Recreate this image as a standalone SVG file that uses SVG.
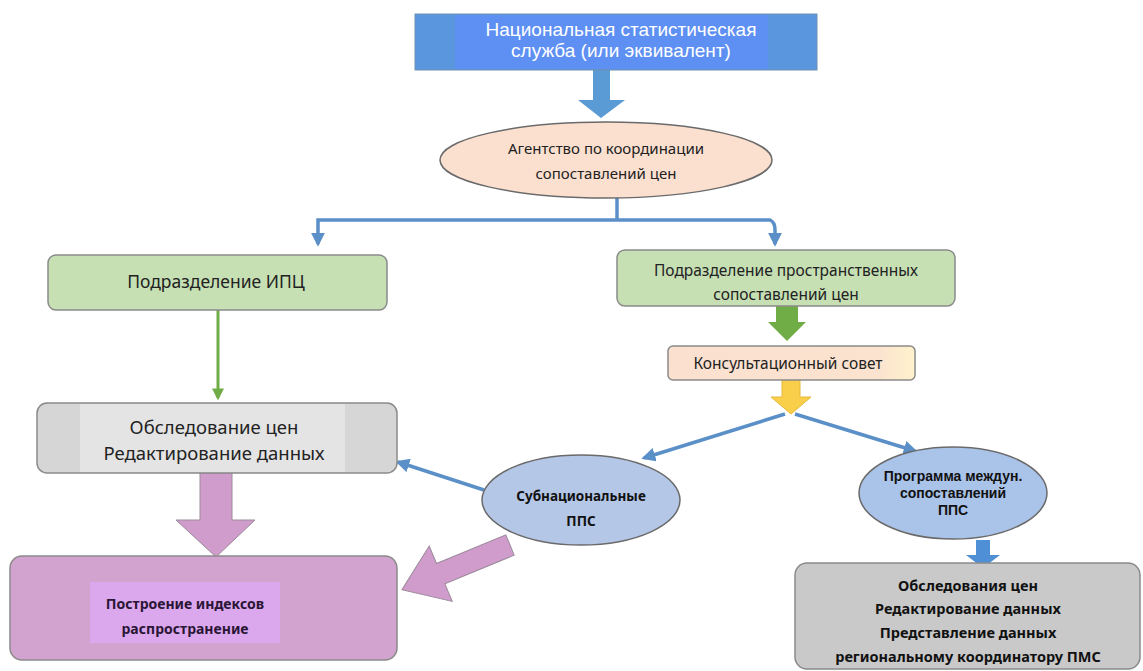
<svg xmlns="http://www.w3.org/2000/svg" width="1143" height="671" viewBox="0 0 1143 671">
<defs>
<style>
text{font-family:"Noto Sans","Liberation Sans",sans-serif;text-anchor:middle;fill:#222}
.b{font-weight:bold;fill:#111}
.w{fill:#fff;font-family:"Liberation Sans",Arial,sans-serif}
.lb{font-family:"Liberation Sans",Arial,sans-serif}
.ln{fill:none;stroke:#5b8fc7;stroke-width:3.5}
.st{stroke:#8a8a8a;stroke-width:1.5}
</style>
<marker id="ah" viewBox="0 0 10 10" refX="8" refY="5" markerWidth="4" markerHeight="4" orient="auto"><path d="M0,0 L10,5 L0,10 z" fill="#5b8fc7"/></marker>
<marker id="ag" viewBox="0 0 10 10" refX="8" refY="5" markerWidth="4" markerHeight="4" orient="auto"><path d="M0,0 L10,5 L0,10 z" fill="#70ad47"/></marker>
<linearGradient id="peach" x1="0" x2="1" y1="0" y2="0"><stop offset="0" stop-color="#fbe0d0"/><stop offset="0.85" stop-color="#fbe3cf"/><stop offset="1" stop-color="#fff2cc"/></linearGradient>
</defs>
<rect width="1143" height="671" fill="#fff"/>

<g id="connectors">
<path d="M593,70 H610 V100 H625 L601,118 L578,100 H593 Z" fill="#5b9bd5"/>
<path class="ln" d="M617,197 V220"/>
<path class="ln" d="M617,220 H318 V244" marker-end="url(#ah)"/>
<path class="ln" d="M617,220 H770 Q775,222 775,230 V244" marker-end="url(#ah)"/>
<path d="M218,310 V398" fill="none" stroke="#70ad47" stroke-width="3" marker-end="url(#ag)"/>
<path d="M776,306 H798 V322 H806 L787,341 L768,322 H776 Z" fill="#70ad47"/>
<path d="M782,380 H800 V397 H811 L791,414 L771,397 H782 Z" fill="#f9cf4a" stroke="#e8b83a" stroke-width="1"/>
<path class="ln" d="M785,414 L644,458" marker-end="url(#ah)"/>
<path class="ln" d="M795,414 L915,451" marker-end="url(#ah)"/>
<path class="ln" d="M484,490 L398,462" marker-end="url(#ah)"/>
<path d="M200,473 H232 V520 H255 L216,557 L176,520 H200 Z" fill="#d09ccc" stroke="#9a8a9a" stroke-width="1"/>
<path d="M0,-11 H75 V-30 L117,0 L75,30 V11 H0 Z" fill="#d09ccc" stroke="#9a8a9a" stroke-width="1" transform="translate(510,545) rotate(157.5)"/>
<path d="M976,540 H990 V555 H1000 L983,568 L966,555 H976 Z" fill="#4f8fd6"/>
</g>

<g id="nss">
<rect x="415" y="14" width="402" height="56" fill="#5a96de" stroke="#6f8fb0" stroke-width="1"/>
<rect x="455" y="15" width="313" height="54" fill="#5e8ff2"/>
<text class="w" x="621" y="36" font-size="19">Национальная статистическая</text>
<text class="w" x="621" y="57" font-size="19">служба (или эквивалент)</text>
</g>

<g id="agency">
<ellipse cx="606" cy="160" rx="166" ry="38" fill="#fbe0d0" stroke="#6a6a6a" stroke-width="1.5"/>
<text x="606" y="154" font-size="15">Агентство по координации</text>
<text x="606" y="179" font-size="15">сопоставлений цен</text>
</g>

<g id="cpi">
<rect x="48" y="255" width="339" height="55" rx="8" fill="#c6e0b4" class="st"/>
<text x="216" y="288" font-size="17.5">Подразделение ИПЦ</text>
</g>

<g id="spatial">
<rect x="617" y="250" width="338" height="56" rx="8" fill="#c6e0b4" class="st"/>
<text x="786" y="276" font-size="15.5">Подразделение пространственных</text>
<text x="786" y="300" font-size="15.5">сопоставлений цен</text>
</g>

<g id="council">
<rect x="668" y="346" width="247" height="34" rx="5" fill="url(#peach)" class="st"/>
<text x="788" y="369" font-size="15.5">Консультационный совет</text>
</g>

<g id="survey">
<rect x="37" y="403" width="360" height="70" rx="10" fill="#d6d6d6" class="st"/>
<rect x="80" y="404" width="265" height="68" fill="#e4e4e4"/>
<text x="214" y="434" font-size="18.5">Обследование цен</text>
<text x="214" y="460" font-size="18.5">Редактирование данных</text>
</g>

<g id="subnational">
<ellipse cx="581" cy="500" rx="99" ry="45" fill="#b4c7e7" stroke="#6a6a6a" stroke-width="1.5"/>
<text class="b" x="581" y="501" font-size="13.5">Субнациональные</text>
<text class="b" x="581" y="526" font-size="13.5">ППС</text>
</g>

<g id="icp">
<ellipse cx="953" cy="493" rx="94" ry="46" fill="#aac3e8" stroke="#6a6a6a" stroke-width="1.5"/>
<text class="b lb" x="953" y="481" font-size="14">Программа междун.</text>
<text class="b lb" x="953" y="498" font-size="14">сопоставлений</text>
<text class="b lb" x="953" y="515" font-size="14">ППС</text>
</g>

<g id="indices">
<rect x="10" y="556" width="387" height="104" rx="12" fill="#d3a3d0" class="st"/>
<rect x="90" y="582" width="190" height="61" fill="#dba8ee"/>
<text class="b" x="185" y="609" font-size="14" style="fill:#2a1535">Построение индексов</text>
<text class="b" x="185" y="634" font-size="14" style="fill:#2a1535">распространение</text>
</g>

<g id="icpsurvey">
<rect x="795" y="563" width="345" height="106" rx="12" fill="#c9c9c9" class="st"/>
<text class="b" x="968" y="591" font-size="14.5">Обследования цен</text>
<text class="b" x="968" y="614" font-size="14.5">Редактирование данных</text>
<text class="b" x="968" y="638" font-size="14.5">Представление данных</text>
<text class="b" x="968" y="662" font-size="14.5">региональному координатору ПМС</text>
</g>
</svg>
